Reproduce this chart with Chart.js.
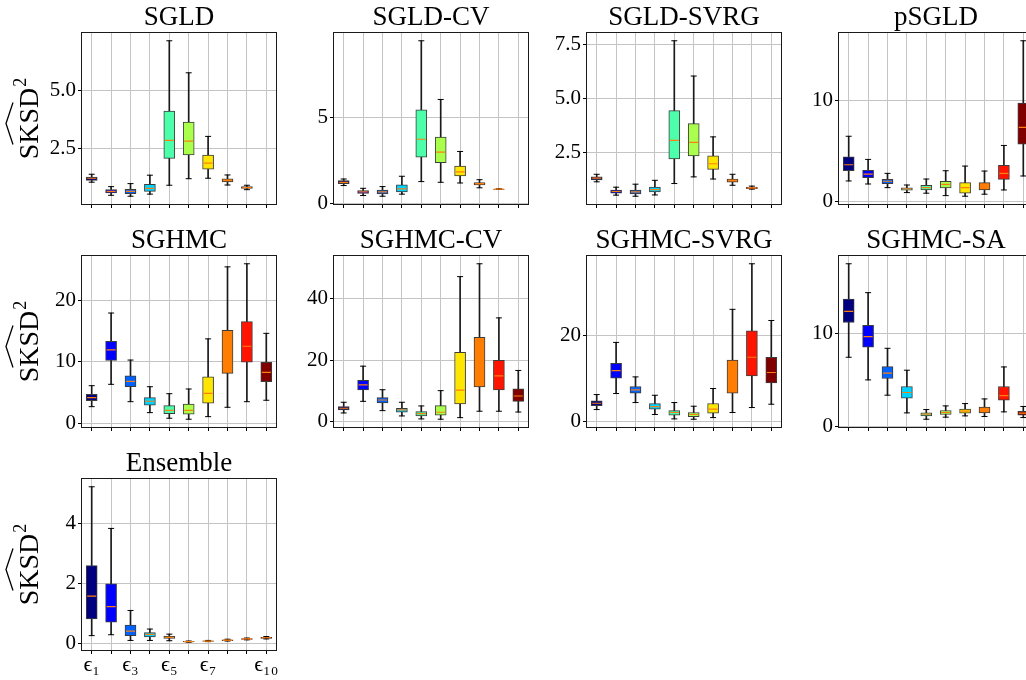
<!DOCTYPE html>
<html>
<head>
<meta charset="utf-8">
<script src="https://cdn.jsdelivr.net/npm/chart.js@4.4.1/dist/chart.umd.min.js"></script>
<style>
html, body { margin: 0; padding: 0; background: #fff; overflow: hidden; width: 1026px; height: 680px; }
canvas { position: absolute; }
</style>
</head>
<body>
<script>
// box stats per step size: [min, q1, median, q3, max]
const sgld = [
    [1.07, 1.15, 1.24, 1.29, 1.41],
    [0.51, 0.61, 0.68, 0.75, 0.88],
    [0.47, 0.58, 0.68, 0.77, 1.01],
    [0.56, 0.68, 0.81, 0.98, 1.37],
    [0.94, 2.09, 2.86, 4.11, 7.12],
    [1.22, 2.24, 2.83, 3.64, 5.75],
    [1.24, 1.63, 1.89, 2.23, 3.03],
    [0.95, 1.08, 1.15, 1.21, 1.38],
    [0.75, 0.80, 0.84, 0.88, 0.94],
    null
];
const sgldCv = [
    [1.04, 1.15, 1.23, 1.33, 1.42],
    [0.46, 0.59, 0.67, 0.75, 0.88],
    [0.42, 0.56, 0.67, 0.77, 0.98],
    [0.54, 0.67, 0.85, 1.08, 1.58],
    [1.27, 2.69, 3.73, 5.44, 9.45],
    [1.23, 2.37, 2.98, 3.85, 6.04],
    [1.19, 1.60, 1.83, 2.17, 3.02],
    [0.91, 1.08, 1.15, 1.21, 1.38],
    [0.81, 0.82, 0.83, 0.84, 0.85],
    null
];
const sgldSvrg = [
    [1.13, 1.22, 1.30, 1.36, 1.48],
    [0.51, 0.60, 0.68, 0.75, 0.88],
    [0.46, 0.57, 0.66, 0.75, 1.02],
    [0.52, 0.66, 0.77, 0.89, 1.20],
    [1.05, 2.20, 3.06, 4.44, 7.69],
    [1.36, 2.33, 2.96, 3.84, 6.05],
    [1.26, 1.71, 1.97, 2.34, 3.22],
    [0.97, 1.11, 1.20, 1.26, 1.48],
    [0.79, 0.81, 0.85, 0.88, 0.93],
    null
];
const psgld = [
    [2.04, 3.05, 3.64, 4.43, 6.46],
    [1.74, 2.36, 2.72, 3.09, 4.17],
    [1.38, 1.77, 2.01, 2.20, 2.79],
    [0.89, 1.12, 1.25, 1.35, 1.64],
    [0.83, 1.15, 1.38, 1.61, 2.23],
    [0.59, 1.35, 1.71, 2.01, 3.05],
    [0.53, 0.83, 1.38, 1.87, 3.51],
    [0.73, 1.15, 1.54, 1.87, 3.02],
    [1.15, 2.20, 2.79, 3.58, 5.55],
    [2.53, 5.67, 7.34, 9.73, 15.9]
];
const sghmc = [
    [2.69, 3.66, 4.15, 4.70, 6.1],
    [6.32, 10.2, 11.9, 13.3, 17.9],
    [3.5, 5.93, 6.8, 7.71, 10.26],
    [1.72, 2.92, 3.57, 4.15, 5.93],
    [0.81, 1.56, 2.1, 2.85, 4.8],
    [0.65, 1.46, 2.1, 3.13, 5.56],
    [1.07, 3.24, 4.86, 7.55, 13.7],
    [2.59, 8.1, 10.96, 15.1, 25.4],
    [3.5, 9.9, 12.5, 16.5, 25.9],
    [3.73, 6.74, 8.27, 9.9, 14.6]
];
const sghmcCv = [
    [2.7, 3.68, 4.24, 4.76, 6.2],
    [6.5, 10.2, 11.9, 13.4, 18.0],
    [3.46, 5.97, 6.94, 7.7, 10.3],
    [1.73, 2.93, 3.68, 4.24, 6.2],
    [0.75, 1.73, 2.48, 3.13, 5.0],
    [0.65, 1.96, 2.93, 5.09, 10.0],
    [1.17, 5.64, 10.2, 22.5, 47.3],
    [3.26, 11.2, 17.4, 27.4, 51.5],
    [3.26, 10.2, 14.8, 19.9, 33.8],
    [3.0, 6.5, 8.25, 10.6, 16.6]
];
const sghmcSvrg = [
    [2.87, 3.8, 4.34, 4.88, 6.36],
    [6.6, 10.2, 11.95, 13.65, 18.5],
    [4.5, 6.67, 7.44, 8.23, 10.47],
    [1.72, 2.95, 3.57, 4.27, 6.2],
    [0.7, 1.55, 2.18, 2.64, 4.5],
    [0.62, 1.24, 1.72, 2.18, 3.65],
    [1.0, 2.02, 2.95, 4.27, 7.76],
    [2.18, 6.67, 9.53, 14.4, 26.2],
    [3.34, 10.7, 15.05, 21.2, 36.8],
    [4.11, 9.07, 11.5, 15.0, 23.6]
];
const sghmcSa = [
    [7.47, 11.2, 12.4, 13.7, 17.5],
    [5.04, 8.54, 9.69, 10.9, 14.4],
    [3.4, 5.19, 5.76, 6.47, 8.43],
    [1.5, 3.08, 3.69, 4.33, 6.08],
    [0.82, 1.18, 1.36, 1.5, 1.86],
    [1.04, 1.33, 1.54, 1.76, 2.25],
    [1.18, 1.47, 1.68, 1.9, 2.5],
    [1.11, 1.5, 1.82, 2.11, 3.0],
    [1.61, 2.86, 3.36, 4.33, 6.43],
    [1.0, 1.25, 1.47, 1.68, 2.19]
];
const ensemble = [
    [0.27, 0.83, 1.59, 2.61, 5.24],
    [0.3, 0.72, 1.24, 2.0, 3.85],
    [0.11, 0.27, 0.42, 0.62, 1.11],
    [0.11, 0.23, 0.31, 0.37, 0.49],
    [0.1, 0.18, 0.21, 0.25, 0.32],
    [0.05, 0.06, 0.07, 0.08, 0.09],
    [0.07, 0.08, 0.09, 0.10, 0.11],
    [0.09, 0.10, 0.12, 0.13, 0.15],
    [0.13, 0.14, 0.16, 0.17, 0.19],
    [0.16, 0.18, 0.20, 0.21, 0.24]
];

const titles = ["SGLD", "SGLD-CV", "SGLD-SVRG", "pSGLD", "SGHMC", "SGHMC-CV", "SGHMC-SVRG", "SGHMC-SA", "Ensemble"];
const allStats = [sgld, sgldCv, sgldSvrg, psgld, sghmc, sghmcCv, sghmcSvrg, sghmcSa, ensemble];
const yTicks = [[2.5, 5.0], [0, 5], [2.5, 5.0, 7.5], [0, 10], [0, 10, 20], [0, 20, 40], [0, 20], [0, 10], [0, 2, 4]];
const yDigits = [1, 0, 1, 0, 0, 0, 0, 0, 0];
const categories = ['ϵ₁', 'ϵ₂', 'ϵ₃', 'ϵ₄', 'ϵ₅', 'ϵ₆', 'ϵ₇', 'ϵ₈', 'ϵ₉', 'ϵ₁₀'];
const xTickLabels = ['ϵ₁', '', 'ϵ₃', '', 'ϵ₅', '', 'ϵ₇', '', '', 'ϵ₁₀'];

// jet colormap, 10 samples
const boxColors = ['#00007f', '#0000ff', '#0063ff', '#00d4ff', '#4dffaa', '#aaff4d', '#ffe600', '#ff7d00', '#ff1400', '#800000'];

// layout of the axes frames (page pixels)
const colLeft = [82, 334, 587, 839];
const rowTop = [33, 256, 479];
const frameW = 194, frameH = 171;
const titleH = 29, xAxisH = 30, rightPad = 14;

const serif = "'Liberation Serif', 'DejaVu Serif', serif";
Chart.defaults.font.family = serif;
Chart.defaults.color = '#000';

const framePlugin = {
    id: 'frame',
    afterDatasetsDraw(chart) {
        const a = chart.chartArea, ctx = chart.ctx;
        ctx.save();
        ctx.strokeStyle = '#1a1a1a';
        ctx.lineWidth = 1;
        ctx.strokeRect(Math.round(a.left) - 0.5, Math.round(a.top) - 0.5,
            Math.round(a.right - a.left) + 1, Math.round(a.bottom - a.top) + 1);
        ctx.restore();
    }
};

// rotated y label with a wide hat
const ylabelPlugin = {
    id: 'ylab',
    afterDraw(chart) {
        const a = chart.chartArea, ctx = chart.ctx;
        const cy = (a.top + a.bottom) / 2;
        ctx.save();
        ctx.fillStyle = '#000';
        ctx.strokeStyle = '#000';
        ctx.font = '28px ' + serif;
        const w1 = ctx.measureText('SKSD').width;
        ctx.font = '18px ' + serif;
        const w2 = ctx.measureText('2').width;
        const total = w1 + w2 + 1;
        ctx.translate(38, cy);
        ctx.rotate(-Math.PI / 2);
        ctx.textBaseline = 'alphabetic';
        ctx.textAlign = 'left';
        ctx.font = '28px ' + serif;
        ctx.fillText('SKSD', -total / 2, 0);
        ctx.font = '18px ' + serif;
        ctx.fillText('2', -total / 2 + w1 + 1, -12);
        const hc = -total / 2 + w1 / 2, hw = 21;
        ctx.beginPath();
        ctx.moveTo(hc - hw, -25);
        ctx.lineTo(hc, -32);
        ctx.lineTo(hc + hw, -25);
        ctx.lineWidth = 1.3;
        ctx.stroke();
        ctx.restore();
    }
};

allStats.forEach((stats, i) => {
    const col = i % 4, row = Math.floor(i / 4);
    const yW = col === 0 ? colLeft[col] : 60;
    const cv = document.createElement('canvas');
    cv.width = yW + frameW + rightPad;
    cv.height = titleH + frameH + xAxisH;
    cv.style.left = (colLeft[col] - yW) + 'px';
    cv.style.top = (rowTop[row] - titleH) + 'px';
    document.body.appendChild(cv);

    const valid = stats.filter(s => s);
    const lo = Math.min(...valid.map(s => s[0]));
    const hi = Math.max(...valid.map(s => s[4]));
    const margin = 0.05 * (hi - lo);

    const gridStyle = { color: '#c4c4c4', lineWidth: 1, tickColor: '#000', tickLength: 4, offset: false };

    new Chart(cv, {
        type: 'bar',
        data: {
            labels: categories,
            datasets: [
                {   // whiskers
                    type: 'bar', data: stats.map(s => s ? [s[0], s[4]] : null),
                    backgroundColor: '#1a1a1a', borderWidth: 0, barThickness: 1, grouped: false, order: 4
                },
                {   // boxes
                    type: 'bar', data: stats.map(s => s ? [s[1], s[3]] : null),
                    backgroundColor: boxColors, borderColor: '#3c3c3c', borderWidth: 1,
                    borderSkipped: false, barThickness: 11, grouped: false, order: 3
                },
                {   // medians
                    type: 'line', data: stats.map(s => s ? s[2] : null), showLine: false,
                    pointStyle: 'line', pointRadius: 4.5, pointBorderColor: '#ff7f0e', pointBorderWidth: 1.2, order: 1
                },
                {   // top caps
                    type: 'line', data: stats.map(s => s ? s[4] : null), showLine: false,
                    pointStyle: 'line', pointRadius: 3, pointBorderColor: '#000', pointBorderWidth: 1, order: 2
                },
                {   // bottom caps
                    type: 'line', data: stats.map(s => s ? s[0] : null), showLine: false,
                    pointStyle: 'line', pointRadius: 3, pointBorderColor: '#000', pointBorderWidth: 1, order: 2
                }
            ]
        },
        options: {
            responsive: false,
            animation: false,
            devicePixelRatio: 1,
            events: [],
            layout: { padding: { left: 0, right: rightPad, top: 0, bottom: 0 } },
            plugins: {
                legend: { display: false },
                tooltip: { enabled: false },
                title: {
                    display: true, text: titles[i], fullSize: false, color: '#000',
                    font: { size: 27, weight: 'normal', lineHeight: 1 },
                    padding: { top: 0, bottom: 2 }
                }
            },
            scales: {
                x: {
                    type: 'category', offset: true,
                    grid: gridStyle,
                    border: { display: false },
                    ticks: {
                        autoSkip: false, maxRotation: 0, minRotation: 0, padding: 0,
                        font: { size: 22, lineHeight: 1 }, color: '#000',
                        callback: (v, idx) => row === 2 ? xTickLabels[idx] : ''
                    },
                    afterFit: s => { s.height = xAxisH; }
                },
                y: {
                    type: 'linear', min: lo - margin, max: hi + margin,
                    grid: gridStyle,
                    border: { display: false },
                    ticks: {
                        padding: 2, font: { size: 21 }, color: '#000',
                        callback: v => v.toFixed(yDigits[i])
                    },
                    afterBuildTicks: s => { s.ticks = yTicks[i].map(v => ({ value: v })); },
                    afterFit: s => { s.width = yW; }
                }
            }
        },
        plugins: col === 0 ? [framePlugin, ylabelPlugin] : [framePlugin]
    });
});
</script>
</body>
</html>
